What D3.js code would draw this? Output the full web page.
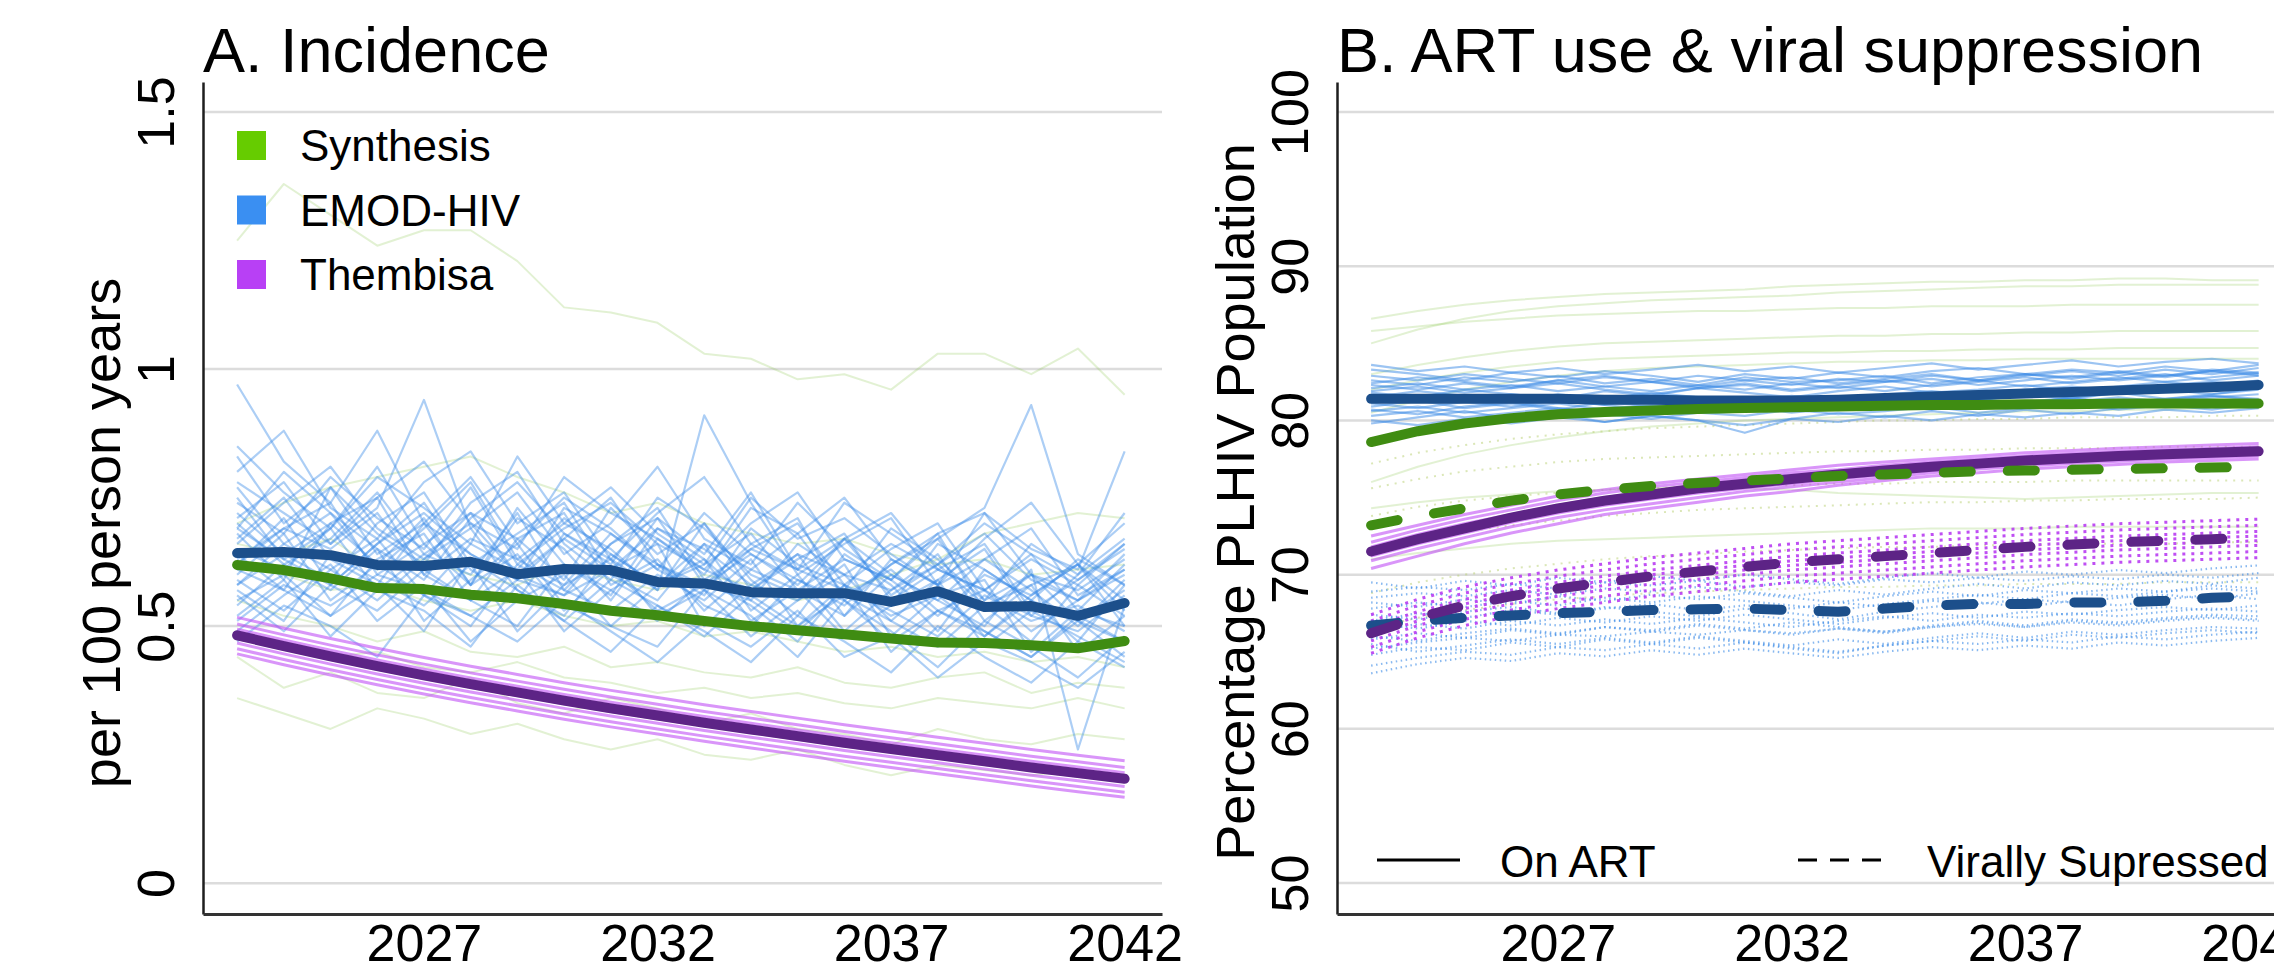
<!DOCTYPE html>
<html><head><meta charset="utf-8">
<script src="https://cdn.jsdelivr.net/npm/d3@7"></script>
<style>
html,body{margin:0;padding:0;background:#fff;}
svg{display:block;}
text{font-family:"Liberation Sans",Arial,Helvetica,sans-serif;fill:#000;}
</style></head><body>
<svg id="chart" width="2274" height="978"></svg>
<script>
// ---------- shared ----------
const years = [2023,2024,2025,2026,2027,2028,2029,2030,2031,2032,2033,2034,2035,2036,2037,2038,2039,2040,2041,2042];
const yearTicks = [2027,2032,2037,2042];
const modelNames = ["Synthesis","EMOD-HIV","Thembisa"];

// ---------- A. Incidence (per 100 person years) ----------
const incTicks = [0,0.5,1,1.5];
const incTickLabels = ["0","0.5","1","1.5"];
const incSynthesisMean = [0.619,0.609,0.593,0.574,0.572,0.561,0.554,0.543,0.530,0.521,0.510,0.500,0.492,0.484,0.476,0.468,0.467,0.463,0.457,0.471];
const incEmodMean = [0.642,0.644,0.638,0.619,0.617,0.625,0.601,0.611,0.609,0.586,0.583,0.566,0.564,0.564,0.547,0.568,0.537,0.539,0.520,0.545];
const incThembisaMean = [0.482,0.461,0.441,0.422,0.404,0.387,0.371,0.355,0.340,0.326,0.312,0.299,0.286,0.273,0.261,0.249,0.237,0.225,0.214,0.203];

const incSynthesisRuns = [
  [1.25,1.36,1.30,1.24,1.27,1.27,1.21,1.12,1.11,1.09,1.03,1.02,0.98,0.99,0.96,1.03,1.03,0.99,1.04,0.95],
  [0.70,0.74,0.77,0.79,0.81,0.83,0.79,0.76,0.72,0.74,0.70,0.68,0.66,0.67,0.64,0.62,0.63,0.60,0.61,0.62],
  [0.44,0.38,0.41,0.37,0.36,0.40,0.35,0.33,0.36,0.34,0.31,0.33,0.30,0.29,0.27,0.30,0.28,0.27,0.29,0.28],
  [0.55,0.52,0.50,0.47,0.49,0.45,0.44,0.46,0.42,0.43,0.41,0.40,0.42,0.39,0.38,0.40,0.41,0.37,0.39,0.38],
  [0.62,0.60,0.57,0.58,0.55,0.53,0.55,0.52,0.50,0.51,0.48,0.49,0.47,0.45,0.46,0.44,0.45,0.43,0.44,0.42],
  [0.36,0.33,0.30,0.34,0.32,0.29,0.31,0.28,0.26,0.28,0.25,0.24,0.26,0.23,0.21,0.23,0.22,0.21,0.22,0.20],
  [0.66,0.64,0.67,0.61,0.63,0.60,0.58,0.62,0.59,0.57,0.60,0.58,0.55,0.57,0.60,0.63,0.68,0.70,0.72,0.71],
  [0.48,0.46,0.44,0.45,0.42,0.41,0.43,0.40,0.39,0.37,0.38,0.36,0.37,0.35,0.34,0.36,0.35,0.34,0.36,0.34]
];
const incEmodRuns = [
  [0.62,0.71,0.58,0.66,0.74,0.61,0.55,0.68,0.63,0.57,0.70,0.59,0.52,0.64,0.58,0.49,0.61,0.55,0.47,0.58],
  [0.75,0.63,0.69,0.81,0.66,0.72,0.60,0.67,0.75,0.62,0.58,0.66,0.71,0.55,0.62,0.68,0.53,0.60,0.57,0.63],
  [0.55,0.60,0.52,0.58,0.49,0.63,0.57,0.51,0.59,0.54,0.48,0.56,0.50,0.58,0.45,0.53,0.49,0.44,0.52,0.47],
  [0.68,0.59,0.77,0.64,0.70,0.58,0.73,0.62,0.56,0.69,0.63,0.55,0.66,0.60,0.57,0.64,0.51,0.58,0.62,0.55],
  [0.97,0.82,0.74,0.88,0.70,0.79,0.66,0.75,0.69,0.61,0.72,0.64,0.58,0.67,0.60,0.55,0.63,0.57,0.50,0.59],
  [0.58,0.66,0.61,0.55,0.63,0.69,0.57,0.52,0.64,0.58,0.66,0.53,0.60,0.49,0.57,0.62,0.54,0.47,0.58,0.52],
  [0.71,0.78,0.66,0.73,0.94,0.69,0.76,0.64,0.70,0.81,0.67,0.62,0.74,0.65,0.59,0.68,0.72,0.60,0.55,0.64],
  [0.49,0.56,0.62,0.51,0.58,0.47,0.55,0.60,0.50,0.46,0.57,0.52,0.44,0.55,0.49,0.42,0.51,0.46,0.40,0.48],
  [0.83,0.70,0.77,0.68,0.62,0.74,0.80,0.66,0.59,0.71,0.64,0.76,0.61,0.57,0.69,0.63,0.55,0.66,0.60,0.72],
  [0.64,0.57,0.70,0.75,0.60,0.55,0.67,0.72,0.58,0.63,0.53,0.61,0.68,0.56,0.51,0.59,0.65,0.52,0.49,0.56],
  [0.60,0.68,0.55,0.62,0.71,0.58,0.64,0.53,0.61,0.66,0.50,0.58,0.55,0.62,0.48,0.56,0.59,0.45,0.53,0.50],
  [0.77,0.66,0.72,0.61,0.69,0.78,0.63,0.70,0.65,0.57,0.91,0.74,0.60,0.66,0.71,0.58,0.63,0.69,0.56,0.61],
  [0.52,0.59,0.48,0.57,0.53,0.46,0.58,0.51,0.45,0.54,0.49,0.43,0.52,0.47,0.41,0.50,0.44,0.39,0.47,0.42],
  [0.66,0.74,0.81,0.69,0.63,0.72,0.67,0.59,0.73,0.64,0.70,0.57,0.63,0.68,0.55,0.61,0.66,0.53,0.59,0.65],
  [0.72,0.64,0.59,0.70,0.76,0.62,0.68,0.74,0.60,0.55,0.66,0.61,0.57,0.52,0.63,0.58,0.48,0.56,0.62,0.50],
  [0.57,0.51,0.64,0.59,0.54,0.62,0.49,0.58,0.63,0.52,0.57,0.48,0.55,0.60,0.51,0.46,0.54,0.58,0.45,0.52],
  [0.85,0.76,0.69,0.79,0.73,0.66,0.83,0.70,0.77,0.68,0.62,0.75,0.67,0.71,0.64,0.58,0.72,0.65,0.61,0.84],
  [0.63,0.69,0.74,0.60,0.66,0.58,0.71,0.65,0.55,0.67,0.61,0.57,0.64,0.52,0.60,0.55,0.50,0.61,0.26,0.54],
  [0.47,0.54,0.50,0.44,0.56,0.52,0.47,0.55,0.49,0.43,0.51,0.46,0.53,0.44,0.48,0.40,0.47,0.43,0.38,0.45],
  [0.70,0.62,0.67,0.76,0.64,0.60,0.72,0.57,0.66,0.73,0.59,0.65,0.70,0.58,0.54,0.66,0.61,0.55,0.63,0.58],
  [0.80,0.88,0.73,0.67,0.78,0.84,0.70,0.76,0.63,0.72,0.79,0.66,0.61,0.74,0.68,0.62,0.70,0.64,0.59,0.66],
  [0.59,0.53,0.61,0.67,0.56,0.50,0.62,0.57,0.53,0.60,0.55,0.63,0.50,0.56,0.61,0.53,0.48,0.55,0.51,0.44],
  [0.67,0.75,0.63,0.58,0.70,0.64,0.59,0.73,0.68,0.61,0.56,0.69,0.62,0.58,0.65,0.70,0.57,0.52,0.60,0.67],
  [0.54,0.62,0.57,0.65,0.51,0.59,0.66,0.54,0.50,0.58,0.63,0.51,0.57,0.48,0.54,0.59,0.46,0.53,0.48,0.43],
  [0.74,0.68,0.79,0.71,0.65,0.77,0.62,0.69,0.74,0.66,0.61,0.70,0.76,0.63,0.59,0.67,0.73,0.93,0.64,0.58],
  [0.61,0.57,0.52,0.63,0.68,0.55,0.61,0.49,0.57,0.62,0.54,0.50,0.59,0.55,0.47,0.53,0.57,0.49,0.55,0.61],
  [0.69,0.80,0.72,0.65,0.59,0.71,0.78,0.68,0.62,0.75,0.69,0.60,0.56,0.67,0.72,0.61,0.57,0.64,0.53,0.62],
  [0.56,0.49,0.58,0.53,0.61,0.55,0.50,0.62,0.57,0.51,0.59,0.54,0.47,0.58,0.52,0.56,0.49,0.44,0.51,0.47],
  [0.78,0.72,0.66,0.75,0.82,0.70,0.65,0.79,0.72,0.67,0.60,0.73,0.68,0.75,0.63,0.58,0.67,0.74,0.62,0.70],
  [0.65,0.61,0.69,0.57,0.64,0.70,0.60,0.56,0.66,0.71,0.58,0.64,0.59,0.54,0.62,0.67,0.55,0.60,0.51,0.57],
  [0.58,0.64,0.70,0.62,0.56,0.66,0.61,0.71,0.64,0.58,0.62,0.68,0.57,0.63,0.59,0.52,0.60,0.56,0.62,0.53],
  [0.69,0.63,0.58,0.66,0.72,0.64,0.59,0.67,0.61,0.69,0.65,0.58,0.64,0.60,0.66,0.61,0.57,0.63,0.58,0.66],
  [0.62,0.69,0.65,0.72,0.60,0.67,0.63,0.58,0.68,0.62,0.57,0.65,0.61,0.67,0.56,0.62,0.68,0.59,0.55,0.60],
  [0.51,0.58,0.54,0.60,0.57,0.52,0.59,0.56,0.61,0.53,0.58,0.55,0.49,0.57,0.53,0.48,0.56,0.51,0.54,0.49]
];
const incThembisaRuns = [
  [0.517,0.496,0.476,0.457,0.439,0.422,0.406,0.390,0.375,0.361,0.347,0.334,0.321,0.308,0.296,0.284,0.272,0.260,0.249,0.238],
  [0.504,0.483,0.463,0.444,0.426,0.409,0.393,0.377,0.362,0.348,0.334,0.321,0.308,0.295,0.283,0.271,0.259,0.247,0.236,0.225],
  [0.494,0.473,0.453,0.434,0.416,0.399,0.383,0.367,0.352,0.338,0.324,0.311,0.298,0.285,0.273,0.261,0.249,0.237,0.226,0.215],
  [0.487,0.466,0.446,0.427,0.409,0.392,0.376,0.360,0.345,0.331,0.317,0.304,0.291,0.278,0.266,0.254,0.242,0.230,0.219,0.208],
  [0.476,0.455,0.435,0.416,0.398,0.381,0.365,0.349,0.334,0.320,0.306,0.293,0.280,0.267,0.255,0.243,0.231,0.219,0.208,0.197],
  [0.467,0.446,0.426,0.407,0.389,0.372,0.356,0.340,0.325,0.311,0.297,0.284,0.271,0.258,0.246,0.234,0.222,0.210,0.199,0.188],
  [0.456,0.435,0.415,0.396,0.378,0.361,0.345,0.329,0.314,0.300,0.286,0.273,0.260,0.247,0.235,0.223,0.211,0.199,0.188,0.177],
  [0.446,0.425,0.405,0.386,0.368,0.351,0.335,0.319,0.304,0.290,0.276,0.263,0.250,0.237,0.225,0.213,0.201,0.189,0.178,0.167]
];

// ---------- B. ART use & viral suppression (% of PLHIV) ----------
const pctTicks = [50,60,70,80,90,100];
const artSynthesisMean = [78.6,79.3,79.8,80.15,80.4,80.55,80.65,80.75,80.8,80.85,80.9,80.95,81.0,81.0,81.05,81.05,81.1,81.1,81.1,81.1];
const artEmodMean = [81.4,81.4,81.4,81.4,81.4,81.35,81.35,81.3,81.3,81.3,81.35,81.45,81.55,81.65,81.75,81.85,81.95,82.05,82.15,82.3];
const artThembisaMean = [71.5,72.3,73.0,73.7,74.3,74.8,75.2,75.6,75.9,76.2,76.5,76.75,77.0,77.2,77.4,77.55,77.7,77.8,77.9,78.0];
const vsSynthesisMean = [73.2,73.8,74.3,74.8,75.2,75.5,75.75,75.95,76.1,76.25,76.4,76.5,76.6,76.7,76.75,76.8,76.85,76.9,76.95,77.0];
const vsEmodMean = [66.7,67.0,67.2,67.35,67.5,67.6,67.7,67.75,67.8,67.7,67.6,67.8,68.0,68.1,68.1,68.2,68.2,68.3,68.5,68.6];
const vsThembisaMean = [66.2,67.2,68.0,68.6,69.1,69.5,69.9,70.2,70.5,70.8,71.0,71.2,71.4,71.6,71.8,71.95,72.1,72.2,72.3,72.4];

const artSynthesisRuns = [
  [86.6,87.1,87.5,87.8,88.0,88.2,88.3,88.4,88.5,88.7,88.8,88.9,89.0,89.0,89.1,89.1,89.2,89.2,89.1,89.1],
  [85.0,85.9,86.6,87.1,87.4,87.6,87.8,87.9,88.0,88.1,88.3,88.4,88.5,88.6,88.7,88.7,88.8,88.8,88.8,88.8],
  [85.8,86.1,86.4,86.6,86.8,86.9,87.0,87.1,87.1,87.2,87.3,87.3,87.4,87.4,87.4,87.5,87.5,87.5,87.5,87.5],
  [83.0,83.6,84.1,84.5,84.8,85.0,85.1,85.2,85.3,85.4,85.5,85.5,85.6,85.6,85.7,85.7,85.8,85.8,85.8,85.8],
  [82.0,82.6,83.1,83.5,83.8,84.0,84.1,84.2,84.3,84.4,84.4,84.5,84.5,84.6,84.6,84.6,84.7,84.7,84.7,84.7],
  [80.5,81.3,82.0,82.5,82.9,83.2,83.4,83.5,83.6,83.7,83.8,83.8,83.9,83.9,84.0,84.0,84.0,84.0,84.0,84.0],
  [76.0,77.0,77.8,78.4,78.9,79.3,79.6,79.8,80.0,80.1,80.2,80.3,80.4,80.5,80.6,80.6,80.7,80.7,80.8,80.8],
  [74.3,74.7,75.0,75.2,75.4,75.5,75.6,75.7,75.6,75.5,75.3,75.2,75.1,75.0,74.9,75.0,75.1,75.2,75.3,75.3],
  [71.0,71.4,71.7,72.0,72.2,72.3,72.4,72.5,72.6,72.7,72.8,72.9,73.0,73.0,73.0,73.1,73.1,73.1,73.1,73.1]
];
const artEmodRuns = [
  [82.6,82.3,82.8,82.5,82.9,82.4,82.7,82.3,82.8,82.5,82.6,82.9,82.4,82.8,83.0,82.7,83.1,82.8,83.2,83.0],
  [80.9,81.3,80.8,81.1,80.7,81.2,80.9,80.6,81.0,80.8,81.1,80.9,81.3,81.0,81.2,81.5,81.1,81.4,81.6,81.3],
  [81.8,81.5,82.0,81.7,81.4,81.9,81.6,82.1,81.8,81.5,81.9,82.2,81.8,82.0,82.3,81.9,82.2,82.5,82.2,82.6],
  [80.3,80.6,80.2,80.5,80.8,80.4,80.1,80.5,80.3,80.7,80.4,80.6,80.9,80.5,80.8,81.1,80.7,81.0,81.3,81.0],
  [83.3,83.0,82.6,83.1,82.8,83.2,82.9,82.5,83.0,82.7,83.1,82.8,83.2,83.4,83.0,83.3,83.1,83.5,83.2,83.6],
  [81.1,80.8,81.2,80.9,81.3,81.0,80.7,81.1,80.8,81.2,80.9,81.3,81.0,81.4,81.1,81.5,81.8,81.4,81.7,82.0],
  [82.1,82.4,82.0,82.3,81.9,82.2,82.5,82.1,82.4,82.0,82.3,82.6,82.2,82.5,82.8,82.4,82.7,83.0,82.6,82.9],
  [79.8,80.2,80.6,80.1,80.4,79.9,80.3,80.0,79.2,80.1,80.5,80.2,80.6,80.3,80.7,80.4,80.8,81.0,80.7,81.1],
  [81.5,81.9,81.6,81.2,81.7,81.4,81.8,81.5,81.2,81.6,81.3,81.7,81.9,81.6,82.0,82.2,81.9,82.3,82.5,82.3],
  [82.9,82.6,83.0,82.7,82.4,82.8,82.5,82.9,82.6,82.3,82.7,82.5,82.9,82.6,83.0,82.8,83.2,82.9,83.3,83.1],
  [80.6,80.9,80.5,80.8,81.1,80.7,81.0,80.6,80.9,80.5,80.8,81.0,80.7,81.1,80.9,81.2,81.5,81.2,81.5,81.7],
  [82.3,82.0,82.4,82.1,82.6,82.2,81.9,82.3,82.0,82.4,82.1,82.5,82.7,82.3,82.6,82.9,82.6,82.9,83.2,82.9],
  [81.2,81.6,81.3,81.7,81.4,81.0,81.4,81.1,81.5,81.2,81.0,81.4,81.6,81.3,81.7,81.4,81.8,82.0,81.7,82.1],
  [83.6,83.2,83.5,83.1,83.4,83.0,83.3,83.6,83.2,83.5,83.1,83.4,83.7,83.3,83.6,83.9,83.5,83.8,84.0,83.7],
  [80.0,79.7,80.1,79.8,80.2,79.9,80.3,80.0,79.7,80.1,79.9,80.3,80.0,80.4,80.2,80.5,80.3,80.7,80.5,80.8],
  [81.9,82.2,81.8,82.1,82.4,82.0,81.7,82.1,82.3,81.9,82.2,81.9,82.3,82.6,82.2,82.5,82.8,82.5,82.8,83.1],
  [82.4,82.8,82.5,82.2,82.6,82.9,82.5,82.2,82.6,82.8,82.4,82.7,83.0,82.6,82.9,83.2,82.9,83.3,83.0,83.4],
  [80.7,80.4,80.9,81.2,80.8,80.5,80.9,81.1,80.7,81.0,81.3,80.9,81.2,80.8,81.1,81.4,81.0,81.3,81.6,81.4]
];
const artThembisaRuns = [
  [72.5,73.2,73.9,74.5,75.1,75.5,75.9,76.2,76.5,76.8,77.1,77.3,77.5,77.7,77.9,78.05,78.2,78.3,78.4,78.5],
  [72.1,72.9,73.6,74.2,74.8,75.3,75.7,76.0,76.3,76.6,76.8,77.1,77.3,77.5,77.7,77.85,78.0,78.1,78.2,78.3],
  [71.8,72.6,73.3,73.9,74.5,75.0,75.4,75.8,76.1,76.4,76.7,76.9,77.2,77.35,77.55,77.7,77.85,77.95,78.05,78.15],
  [71.65,72.45,73.15,73.85,74.45,74.95,75.35,75.75,76.05,76.35,76.65,76.9,77.15,77.35,77.55,77.7,77.85,77.95,78.05,78.15],
  [71.2,72.0,72.7,73.4,74.0,74.5,74.9,75.3,75.6,75.9,76.2,76.5,76.8,77.0,77.2,77.4,77.55,77.65,77.75,77.85],
  [70.9,71.7,72.4,73.1,73.7,74.2,74.6,75.0,75.4,75.7,76.0,76.3,76.6,76.85,77.05,77.2,77.35,77.5,77.6,77.7],
  [70.4,71.2,72.0,72.7,73.3,73.9,74.3,74.7,75.1,75.4,75.8,76.1,76.4,76.6,76.85,77.0,77.15,77.3,77.4,77.5]
];
const vsSynthesisRuns = [
  [77.2,77.9,78.4,78.8,79.1,79.3,79.5,79.6,79.7,79.8,79.9,80.0,80.0,80.1,80.1,80.2,80.2,80.2,80.3,80.3],
  [75.6,76.2,76.7,77.0,77.3,77.5,77.6,77.7,77.8,77.9,78.0,78.0,78.1,78.1,78.2,78.2,78.2,78.3,78.3,78.3],
  [73.8,74.4,74.8,75.1,75.3,75.5,75.6,75.7,75.8,75.8,75.9,75.9,76.0,76.0,76.0,76.1,76.1,76.1,76.1,76.1],
  [71.5,72.2,72.8,73.2,73.5,73.8,74.0,74.2,74.3,74.4,74.5,74.6,74.7,74.7,74.8,74.8,74.9,74.9,74.9,75.0],
  [68.8,69.5,70.0,70.4,70.7,71.0,71.2,71.3,71.5,71.6,71.7,71.8,71.8,71.9,71.9,72.0,72.0,72.0,72.1,72.1],
  [66.5,67.2,67.7,68.1,68.4,68.6,68.8,68.9,69.0,69.1,69.2,69.2,69.3,69.3,69.4,69.4,69.4,69.5,69.5,69.5]
];
const vsEmodRuns = [
  [68.9,69.2,69.0,69.4,69.1,69.5,69.3,69.6,69.2,69.5,69.3,69.7,69.5,69.8,69.6,69.9,69.7,70.0,69.8,70.1],
  [65.2,65.6,65.9,65.7,66.1,66.0,66.3,66.1,66.4,66.2,66.5,66.3,66.6,66.8,66.6,66.9,66.7,67.0,67.2,67.0],
  [67.4,67.1,67.6,67.9,67.5,67.8,68.1,67.7,68.0,67.8,68.2,67.9,68.3,68.1,68.4,68.2,68.5,68.7,68.4,68.8],
  [64.1,64.6,65.0,64.8,65.3,65.1,65.5,65.2,65.6,65.3,65.0,65.4,65.7,65.5,65.8,65.6,66.0,65.8,66.1,66.3],
  [66.3,66.8,66.5,67.0,66.7,67.1,66.8,67.2,66.9,66.6,67.0,67.3,67.0,67.4,67.2,67.5,67.3,67.6,67.8,67.6],
  [68.2,67.9,68.4,68.1,68.6,68.3,68.7,68.4,68.8,68.5,68.2,68.6,68.9,68.6,69.0,68.8,69.1,68.9,69.3,69.1],
  [65.8,66.2,65.9,66.4,66.1,66.6,66.3,66.7,66.4,66.1,66.5,66.2,66.6,66.9,66.6,67.0,66.8,67.1,67.3,67.1],
  [67.0,67.5,67.2,67.7,67.4,67.9,67.6,67.3,67.8,67.5,67.1,67.6,67.9,68.2,67.9,68.3,68.0,68.4,68.7,68.4],
  [64.8,65.3,65.1,65.6,65.3,65.8,65.5,65.9,65.6,65.2,64.9,65.4,65.7,66.0,65.7,66.1,65.9,66.2,66.4,66.2],
  [69.5,69.1,69.6,69.3,69.8,69.5,69.9,69.6,70.0,69.7,69.4,69.8,70.1,69.8,70.2,70.0,70.3,70.1,70.4,70.6],
  [66.0,65.7,66.2,66.5,66.2,66.6,66.4,66.8,66.5,66.9,66.6,66.3,66.7,67.0,66.7,67.1,66.9,67.2,67.4,67.3],
  [67.8,68.2,67.9,68.3,68.0,68.5,68.2,68.6,68.3,68.0,67.7,68.1,68.4,68.7,68.4,68.8,68.6,68.9,69.1,68.9],
  [63.6,64.2,64.6,64.4,64.9,64.7,65.1,64.8,65.2,64.9,64.6,65.0,65.3,65.1,65.4,65.2,65.6,65.4,65.7,65.9],
  [66.9,66.5,67.0,66.7,67.2,66.9,67.3,67.0,67.4,67.1,66.8,67.2,67.5,67.2,67.6,67.4,67.7,67.9,67.7,68.0],
  [68.5,68.8,68.6,69.0,68.7,69.1,68.9,69.2,68.9,68.6,69.0,68.7,69.1,69.4,69.1,69.5,69.3,69.6,69.4,69.8],
  [65.5,65.0,65.4,65.8,65.5,65.9,65.6,66.0,65.7,65.4,65.8,65.5,65.9,66.2,65.9,66.3,66.1,66.4,66.6,66.5]
];
const vsThembisaRuns = [
  [67.4,68.4,69.2,69.8,70.3,70.7,71.1,71.4,71.7,72.0,72.2,72.4,72.6,72.8,73.0,73.15,73.3,73.4,73.5,73.6],
  [67.0,68.0,68.8,69.4,69.9,70.3,70.7,71.0,71.3,71.6,71.8,72.0,72.2,72.4,72.6,72.75,72.9,73.0,73.1,73.2],
  [66.6,67.6,68.4,69.0,69.5,69.9,70.3,70.6,70.9,71.2,71.4,71.6,71.8,72.0,72.2,72.35,72.5,72.6,72.7,72.8],
  [66.3,67.3,68.1,68.7,69.2,69.6,70.0,70.3,70.6,70.9,71.1,71.3,71.5,71.7,71.9,72.05,72.2,72.3,72.4,72.5],
  [66.0,67.0,67.8,68.4,68.9,69.3,69.7,70.0,70.3,70.6,70.8,71.0,71.2,71.4,71.6,71.75,71.9,72.0,72.1,72.2],
  [65.7,66.7,67.5,68.1,68.6,69.0,69.4,69.7,70.0,70.3,70.5,70.7,70.9,71.1,71.3,71.45,71.6,71.7,71.8,71.9],
  [65.3,66.3,67.1,67.7,68.2,68.6,69.0,69.3,69.6,69.9,70.1,70.3,70.5,70.7,70.9,71.05,71.2,71.3,71.4,71.5],
  [64.9,65.9,66.7,67.3,67.8,68.2,68.6,68.9,69.2,69.5,69.7,69.9,70.1,70.3,70.5,70.65,70.8,70.9,71.0,71.1]
];

// ---------- colours ----------
const col = {
  synKey: "#66cc00", emodKey: "#3a8ff2", themKey: "#b840f5",
  synMean: "#3f8c12", emodMean: "#1c4f8b", themMean: "#5d2486",
  synThin: "#8cc850", emodThin: "#3a8ae6", themThin: "#c04ef5",
  grid: "#dcdcdc"
};

const svg = d3.select("#chart");
const plotTop = 82, plotBottom = 914;

function makePanel(left, yDomain, ticks, tickFmt, title, yLabel, yLabelCenter) {
  const right = left + 959;
  const x = d3.scaleLinear().domain([2022.27, 2042.8]).range([left, right]);
  const y = d3.scaleLinear().domain(yDomain).range([plotBottom, plotTop]);
  const g = svg.append("g");

  // gridlines
  g.append("g").selectAll("line").data(ticks).join("line")
    .attr("x1", left).attr("x2", right)
    .attr("y1", d => y(d)).attr("y2", d => y(d))
    .attr("stroke", col.grid).attr("stroke-width", 2.5);

  // y axis with rotated labels
  const ya = g.append("g").attr("transform", `translate(${left},0)`)
    .call(d3.axisLeft(y).tickValues(ticks).tickSize(0).tickSizeOuter(0).tickFormat(tickFmt));
  ya.select(".domain").attr("stroke", "#1e1e1e").attr("stroke-width", 2.5);
  ya.selectAll("text")
    .attr("x", null).attr("dy", null)
    .attr("text-anchor", "middle")
    .attr("transform", "translate(-29,0) rotate(-90)")
    .style("font-size", "52px").style("font-family", "'Liberation Sans',Arial,sans-serif").attr("fill", "#000");

  // x axis
  const xa = g.append("g").attr("transform", `translate(0,${plotBottom})`)
    .call(d3.axisBottom(x).tickValues(yearTicks).tickSize(0).tickSizeOuter(0).tickPadding(10).tickFormat(d3.format("d")));
  xa.select(".domain").attr("stroke", "#333").attr("stroke-width", 3);
  xa.selectAll("text").style("font-size", "52px").style("font-family", "'Liberation Sans',Arial,sans-serif").attr("fill", "#000");

  // title
  svg.append("text").attr("x", left).attr("y", 72)
    .style("font-size", "63px").text(title);

  // y title
  svg.append("text")
    .attr("transform", `translate(${left - 83},${yLabelCenter}) rotate(-90)`)
    .attr("text-anchor", "middle")
    .style("font-size", "54px").text(yLabel);

  const plot = g.append("g");
  const line = d3.line().x((d, i) => x(years[i])).y(d => y(d)).curve(d3.curveLinear);
  return { x, y, plot, line };
}

function runs(p, data, color, width, opacity, dash) {
  p.plot.append("g").selectAll("path").data(data).join("path")
    .attr("d", p.line).attr("fill", "none")
    .attr("stroke", color).attr("stroke-width", width)
    .attr("stroke-opacity", opacity)
    .attr("stroke-dasharray", dash || null)
    .attr("stroke-linejoin", "round");
}
function mean(p, data, color, dash) {
  p.plot.append("path").datum(data).attr("d", p.line).attr("fill", "none")
    .attr("stroke", color).attr("stroke-width", 10)
    .attr("stroke-linejoin", "round").attr("stroke-linecap", "round")
    .attr("stroke-dasharray", dash || null);
}

// ---------- panel A ----------
const pA = makePanel(203, [-0.06, 1.5584], incTicks, (d, i) => incTickLabels[i], "A. Incidence", "per 100 person years", 533);
runs(pA, incSynthesisRuns, col.synThin, 2, 0.25);
runs(pA, incEmodRuns, col.emodThin, 2.2, 0.42);
runs(pA, incThembisaRuns, col.themThin, 3, 0.6);
mean(pA, incThembisaMean, col.themMean);
mean(pA, incEmodMean, col.emodMean);
mean(pA, incSynthesisMean, col.synMean);

// legend A
const keyColors = [col.synKey, col.emodKey, col.themKey];
const legA = svg.append("g");
legA.selectAll("rect").data(modelNames).join("rect")
  .attr("x", 237).attr("y", (d, i) => 131 + i * 64.5)
  .attr("width", 29).attr("height", 29).attr("fill", (d, i) => keyColors[i]);
legA.selectAll("text").data(modelNames).join("text")
  .attr("x", 300).attr("y", (d, i) => 161 + i * 64.5)
  .style("font-size", "44px").text(d => d);

// ---------- panel B ----------
const pB = makePanel(1337, [47.99, 101.95], pctTicks, d3.format("d"), "B. ART use & viral suppression", "Percentage PLHIV Population", 502);
runs(pB, artSynthesisRuns, col.synThin, 2, 0.25);
runs(pB, vsSynthesisRuns, "#b8d070", 2, 0.5, "2,6");
runs(pB, vsEmodRuns, col.emodThin, 2.2, 0.6, "1.5,3.5");
runs(pB, artEmodRuns, col.emodThin, 2.2, 0.5);
runs(pB, artThembisaRuns, col.themThin, 3, 0.6);
runs(pB, vsThembisaRuns, "#b83cf2", 3, 0.9, "3,6");
mean(pB, artEmodMean, col.emodMean);
mean(pB, vsEmodMean, col.emodMean, "27,37");
mean(pB, artThembisaMean, col.themMean);
mean(pB, vsThembisaMean, col.themMean, "27,37");
mean(pB, artSynthesisMean, col.synMean);
mean(pB, vsSynthesisMean, col.synMean, "27,37");

// legend B
const legB = svg.append("g");
legB.append("line").attr("x1", 1377).attr("x2", 1460).attr("y1", 860).attr("y2", 860)
  .attr("stroke", "#000").attr("stroke-width", 3);
legB.append("text").attr("x", 1500).attr("y", 877).style("font-size", "44px").text("On ART");
legB.append("line").attr("x1", 1798).attr("x2", 1881).attr("y1", 860).attr("y2", 860)
  .attr("stroke", "#000").attr("stroke-width", 3).attr("stroke-dasharray", "19,13");
legB.append("text").attr("x", 1927).attr("y", 877).style("font-size", "44px").text("Virally Supressed");
</script>
</body></html>
